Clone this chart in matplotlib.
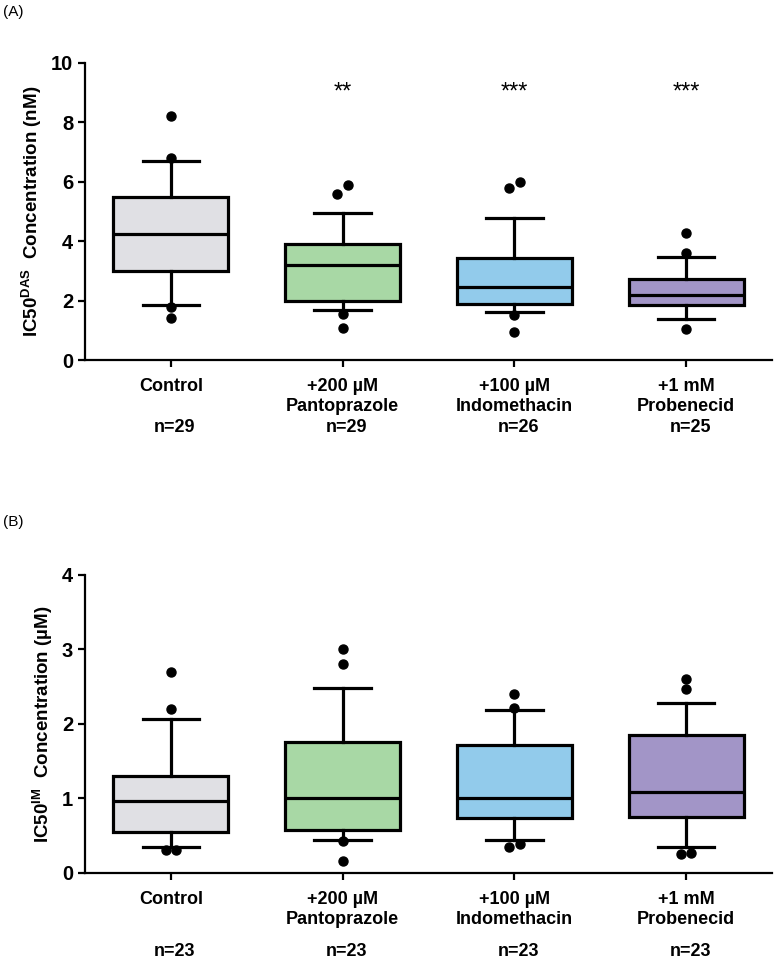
import numpy as np
import matplotlib
matplotlib.use('Agg')
import matplotlib.pyplot as plt
import matplotlib.transforms as mtransforms

plt.rcParams['font.family'] = ['Liberation Sans Narrow', 'Liberation Sans', 'DejaVu Sans']
plt.rcParams['font.weight'] = 'bold'
plt.rcParams['axes.labelweight'] = 'bold'
plt.rcParams['mathtext.fontset'] = 'custom'
plt.rcParams['mathtext.rm'] = 'Liberation Sans:bold'
plt.rcParams['mathtext.default'] = 'rm'

# categories / labels
groups = ['Control', '+200 µM\nPantoprazole', '+100 µM\nIndomethacin', '+1 mM\nProbenecid']
box_colors = ['#e0e0e4', '#a8d8a5', '#92cbeb', '#a295c7']

# panel A: IC50 DAS (nM)
n_A = [29, 29, 26, 25]
stars_A = ['', '**', '***', '***']
a_q1 = [2.99, 1.98, 1.89, 1.86]
a_med = [4.23, 3.20, 2.47, 2.17]
a_q3 = [5.49, 3.91, 3.42, 2.74]
a_lo = [1.84, 1.68, 1.63, 1.38]
a_hi = [6.69, 4.94, 4.77, 3.46]
a_out = [[8.2, 6.8, 1.79, 1.42],
         [5.57, 5.88, 1.54, 1.07],
         [5.79, 5.98, 1.52, 0.94],
         [4.28, 3.59, 1.03]]

# panel B: IC50 IM (uM)
n_B = [23, 23, 23, 23]
b_q1 = [0.55, 0.57, 0.73, 0.75]
b_med = [0.96, 1.00, 1.00, 1.08]
b_q3 = [1.30, 1.75, 1.71, 1.85]
b_lo = [0.34, 0.44, 0.44, 0.35]
b_hi = [2.06, 2.48, 2.18, 2.28]
b_out = [[2.70, 2.20, 0.30, 0.31],
         [3.00, 2.80, 0.43, 0.16],
         [2.40, 2.21, 0.35, 0.38],
         [2.60, 2.47, 0.25, 0.26]]


def swarm(vals, thr, dx):
    # spread points that would overlap side by side
    v = np.sort(np.array(vals))
    offs = np.zeros(len(v))
    i = 0
    while i < len(v):
        j = i
        while j + 1 < len(v) and v[j + 1] - v[j] < thr:
            j += 1
        k = j - i + 1
        offs[i:j + 1] = (np.arange(k) - (k - 1) / 2.) * dx
        i = j + 1
    return offs, v


def draw_panel(ax, q1, med, q3, lo, hi, outs, ymax, ystep, ylabel, thr):
    stats = []
    for i in range(len(groups)):
        stats.append(dict(q1=q1[i], med=med[i], q3=q3[i], whislo=lo[i], whishi=hi[i], fliers=[]))
    pos = np.arange(len(groups))
    bp = ax.bxp(stats, positions=pos, widths=0.67, capwidths=0.33, patch_artist=True,
                showfliers=False,
                boxprops=dict(linewidth=2.3, edgecolor='black'),
                medianprops=dict(color='black', linewidth=2.3),
                whiskerprops=dict(color='black', linewidth=2.3),
                capprops=dict(color='black', linewidth=2.3))
    for patch, c in zip(bp['boxes'], box_colors):
        patch.set_facecolor(c)
    for i, vals in enumerate(outs):
        offs, v = swarm(vals, thr, 0.06)
        ax.plot(pos[i] + offs, v, 'o', color='black', markersize=6.5, zorder=5)

    ax.set_xlim(-0.5, 3.5)
    ax.set_ylim(0, ymax)
    ax.set_yticks(np.arange(0, ymax + 0.01, ystep))
    ax.spines['top'].set_visible(False)
    ax.spines['right'].set_visible(False)
    ax.spines['left'].set_linewidth(1.6)
    ax.spines['bottom'].set_linewidth(1.6)
    ax.tick_params(axis='both', width=1.6, length=5, labelsize=14.5)
    ax.tick_params(axis='x', pad=8)
    ax.set_xticks(pos)
    ax.set_xticklabels(groups, fontsize=13, linespacing=1.25)
    ax.set_ylabel(ylabel, fontsize=13.5, labelpad=5)


fig = plt.figure(figsize=(7.75, 9.6), dpi=100)
axA = fig.add_axes([85 / 775, 1 - 360 / 960, 687 / 775, 297.3 / 960])
axB = fig.add_axes([85 / 775, 1 - 872.7 / 960, 687 / 775, 297.7 / 960])

draw_panel(axA, a_q1, a_med, a_q3, a_lo, a_hi, a_out, 10, 2,
           'IC50$^{DAS}$  Concentration (nM)', 0.34)
draw_panel(axB, b_q1, b_med, b_q3, b_lo, b_hi, b_out, 4, 1,
           'IC50$^{IM}$  Concentration (µM)', 0.12)

for i, s in enumerate(stars_A):
    if s:
        axA.text(i, 9.0, s, ha='center', va='center', fontsize=17,
                 fontweight='normal', family=['Liberation Sans', 'DejaVu Sans'])

off = mtransforms.ScaledTranslation(4 / 100, 0, fig.dpi_scale_trans)
for i, n in enumerate(n_A):
    axA.text(i, 0, 'n=%d' % n, ha='center', va='center', fontsize=13,
             transform=mtransforms.blended_transform_factory(axA.transData, axA.transAxes) + off
             + mtransforms.ScaledTranslation(0, -67 / 100, fig.dpi_scale_trans))
for i, n in enumerate(n_B):
    axB.text(i, 0, 'n=%d' % n, ha='center', va='center', fontsize=13,
             transform=mtransforms.blended_transform_factory(axB.transData, axB.transAxes) + off
             + mtransforms.ScaledTranslation(0, -79 / 100, fig.dpi_scale_trans))

fig.text(3 / 775, 1 - 12 / 960, '(A)', ha='left', va='center', fontsize=11,
         fontweight='normal', family=['Liberation Sans', 'DejaVu Sans'])
fig.text(3 / 775, 1 - 522 / 960, '(B)', ha='left', va='center', fontsize=11,
         fontweight='normal', family=['Liberation Sans', 'DejaVu Sans'])

fig.savefig('out.png', dpi=100)
